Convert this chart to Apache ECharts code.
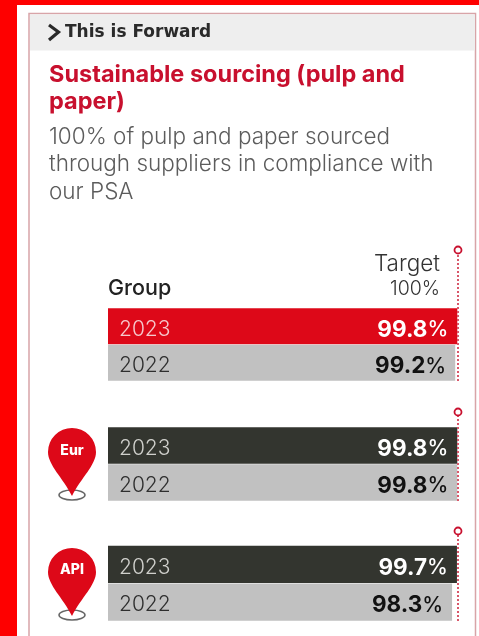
<!DOCTYPE html>
<html><head><meta charset="utf-8">
<style>html,body{margin:0;padding:0;background:#fe0000}#c{width:479px;height:636px}</style>
<script src="https://cdn.jsdelivr.net/npm/echarts@6/dist/echarts.min.js"></script>
</head><body><div id="c"></div>
<script>
var headerText = 'This is Forward';
var titleLines = ['Sustainable sourcing (pulp and', 'paper)'];
var descLines = ['100% of pulp and paper sourced', 'through suppliers in compliance with', 'our PSA'];
var years = ['2023', '2022'];
var groupNames = ['Group', 'Eur', 'API'];
var group2023 = [99.8, 99.8, 99.7];
var group2022 = [99.2, 99.8, 98.3];
var targetValue = 100;

var FONT = 'Inter, "Noto Sans", sans-serif';
var BOLD = '"DejaVu Sans", sans-serif';
var barTops = [308, 427, 545.5];
var barBottoms = [381, 501, 621];
var targetTops = [250, 412, 531];
var topColors = ['#dd0818', '#33352f', '#33352f'];
var yearColors = ['#f6c9cd', '#d0d0cc', '#d0d0cc'];

echarts.graphic.registerShape('pinShape', echarts.graphic.extendPath(
  'M-24,0 A24,24 0 1 1 24,0 C24,13 9,26 0,44 C-9,26 -24,13 -24,0 Z', {}));

function valueRich(color) {
  return {
    n: { fontFamily: FONT, fontSize: 22.5, fontWeight: 700, color: color, padding: [7, 0, 0, 0] },
    p: { fontFamily: FONT, fontSize: 21, fontWeight: 500, color: color, padding: [7, 0, 0, 0] }
  };
}
function yearRich(color) {
  return { fontFamily: FONT, fontSize: 21, fontWeight: 300, color: color, padding: [6, 0, 0, 0] };
}
var grids = [], xAxes = [], yAxes = [], series = [];
groupNames.forEach(function (name, i) {
  var b = i * 2, t = i * 2 + 1;
  grids.push({ left: 108, width: 350, top: barTops[i], height: barBottoms[i] - barTops[i] });
  grids.push({ left: 108, width: 350, top: targetTops[i], height: barBottoms[i] - targetTops[i] });
  xAxes.push({ gridIndex: b, type: 'value', min: 0, max: 100, show: false });
  xAxes.push({ gridIndex: t, type: 'value', min: 0, max: 100, show: false });
  yAxes.push({
    gridIndex: b, type: 'category', inverse: true, data: years,
    axisLine: { show: false }, axisTick: { show: false }, z: 5,
    axisLabel: {
      inside: true, margin: 11,
      formatter: function (v, idx) { return (idx === 0 ? '{a|' : '{b|') + v + '}'; },
      rich: { a: yearRich(yearColors[i]), b: yearRich('#2e2e2e') }
    }
  });
  yAxes.push({ gridIndex: t, type: 'value', min: 0, max: 1, show: false });
  series.push({
    type: 'bar', xAxisIndex: b, yAxisIndex: b, barWidth: '99%', silent: true,
    itemStyle: { color: function (p) { return p.dataIndex === 0 ? topColors[i] : '#c1c1c1'; } },
    label: {
      show: true, position: 'insideRight', distance: 9,
      formatter: function (p) { return '{n|' + Number(p.value).toFixed(1) + '}{p|%}'; }
    },
    data: [
      { value: group2023[i], label: { rich: valueRich('#fff') } },
      { value: group2022[i], label: { rich: valueRich('#111') } }
    ]
  });
  series.push({
    type: 'line', xAxisIndex: t, yAxisIndex: t, silent: true, z: 6,
    data: [[targetValue, 0], { value: [targetValue, 1], symbol: 'circle', symbolSize: 7 }],
    symbol: 'none', showSymbol: true,
    lineStyle: { color: '#d9576a', width: 2, type: [2, 2] },
    itemStyle: { color: '#fff', borderColor: '#c8102e', borderWidth: 1.8 }
  });
});

function txt(x, y, s, size, weight, color, align, font) {
  return { type: 'text', x: x, y: y, z: 25, style: { text: s, fontFamily: font || FONT, fontSize: size, fontWeight: weight, fill: color, align: align || 'left', verticalAlign: 'middle' } };
}
function pin(cy, label, dy) {
  return [
    { type: 'ellipse', z: 20, shape: { cx: 72, cy: cy + 43, rx: 13, ry: 5 }, style: { fill: 'none', stroke: '#666', lineWidth: 1.5 } },
    { type: 'pinShape', z: 21, x: 72, y: cy, style: { fill: '#dd0818' } },
    txt(72, cy + dy, label, 14, 800, '#fff', 'center')
  ];
}
var g = [
  { type: 'rect', z: 1, shape: { x: 17, y: 5, width: 470, height: 640 }, style: { fill: '#fff' } },
  { type: 'rect', z: 2, shape: { x: 29, y: 13.5, width: 446.5, height: 640 }, style: { fill: 'none', stroke: '#d8a4a8', lineWidth: 1.5 } },
  { type: 'rect', z: 2, shape: { x: 30, y: 14.5, width: 445, height: 36 }, style: { fill: '#eeeeee' } },
  { type: 'polyline', z: 20, shape: { points: [[49, 25], [58.5, 32], [49, 40]] }, style: { fill: 'none', stroke: '#2a2a2a', lineWidth: 3.2 } },
  txt(65, 33, headerText, 17, 700, '#2a2a2a', 'left', BOLD),
  txt(49, 75, titleLines[0], 23.5, 700, '#c8102e'),
  txt(49, 102, titleLines[1], 23.5, 700, '#c8102e'),
  txt(49, 137, descLines[0], 22.5, 300, '#5c5c5c'),
  txt(49, 164, descLines[1], 22.5, 300, '#5c5c5c'),
  txt(49, 192, descLines[2], 22.5, 300, '#5c5c5c'),
  txt(108, 289, groupNames[0], 21.5, 500, '#222'),
  txt(440, 264, 'Target', 22.5, 300, '#333', 'right'),
  txt(440, 289, targetValue + '%', 19.5, 300, '#333', 'right')
].concat(pin(452, groupNames[1], -1), pin(572, groupNames[2], -2));

var chart = echarts.init(document.getElementById('c'), null, { renderer: 'canvas' });
chart.setOption({
  backgroundColor: '#fe0000', animation: false,
  grid: grids, xAxis: xAxes, yAxis: yAxes, series: series, graphic: { elements: g }
});
</script></body></html>
